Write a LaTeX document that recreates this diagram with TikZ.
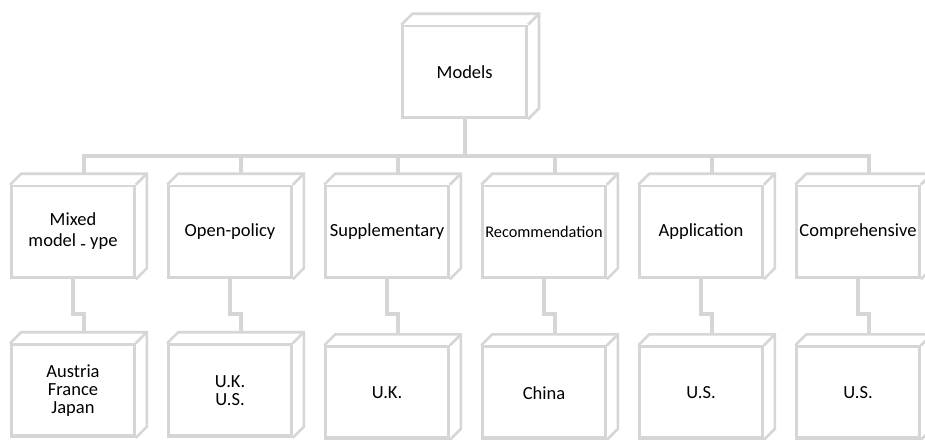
\documentclass[tikz,border=0pt]{standalone}
\usepackage{fontspec}
\setmainfont{Carlito}
\usetikzlibrary{calc}
\definecolor{boxgray}{RGB}{214,214,214}
\tikzset{
  face/.style={draw=boxgray, line width=2.6pt, minimum width=123pt, minimum height=92pt,
    inner sep=0pt, align=center, text=black, font=\fontsize{18.5}{21}\selectfont},
  edgethree/.style={draw=boxgray, line width=2.6pt, line join=miter},
  link/.style={draw=boxgray, line width=4pt},
  lowtext/.style={font=\fontsize{18.5}{18.3}\selectfont},
}
\newcommand\cubeback[1]{%
  \draw[edgethree] (#1.north west) -- ++(11,-11) -- ($(#1.north east)+(11,-11)$)
     -- ($(#1.south east)+(11,-11)$) -- (#1.south east);
  \draw[edgethree] (#1.north east) -- ++(11,-11);
  \draw[boxgray, line width=1.2pt] ($(#1.south west)+(0,-3.2)$) -- ($(#1.south east)+(0,-3.2)$);
}
\begin{document}
\begin{tikzpicture}[x=1pt,y=-1pt]
\useasboundingbox (0,0) rectangle (925,439);
\clip (0,0) rectangle (925,439);
\fill[white] (0,0) rectangle (925,439);

% top box
\node[face, minimum width=124pt] (m) at (464.7,72) {Models};

% level 2
\node[face] (a1) at (73,232) {Mixed\\model \raisebox{-0.22em}{-} ype};
\node[face] (a2) at (230,232) {Open-policy};
\node[face] (a3) at (387,232) {Supplementary};
\node[face, font=\fontsize{16.3}{18}\selectfont] (a4) at (544,232) {Recommendation};
\node[face] (a5) at (701,232) {Application};
\node[face] (a6) at (858,232) {Comprehensive};

% level 3
\node[face, lowtext] (b1) at (73,390.5) {Austria\\France\\Japan};
\node[face, lowtext] (b2) at (230,390.5) {U.K.\\U.S.};
\node[face, lowtext] (b3) at (387,392.7) {U.K.};
\node[face, lowtext] (b4) at (544,392.7) {China};
\node[face, lowtext] (b5) at (701,392.7) {U.S.};
\node[face, lowtext] (b6) at (858,392.7) {U.S.};

% 3D sides
\cubeback{m}
\foreach \k in {1,...,6} {
  \cubeback{a\k}
  \cubeback{b\k}
}

% connectors
\coordinate (bar) at ($(m.south)+(0,37)$);
\draw[link] (m.south) -- (bar);
\foreach \k in {1,...,6} {
  \draw[link] (bar) -| ($(a\k.north)+(10.5,-11)$);
  \draw[link] (a\k.south) -- ++(0,35) -| ($(b\k.north)+(11,-11)$);
}
\end{tikzpicture}
\end{document}
